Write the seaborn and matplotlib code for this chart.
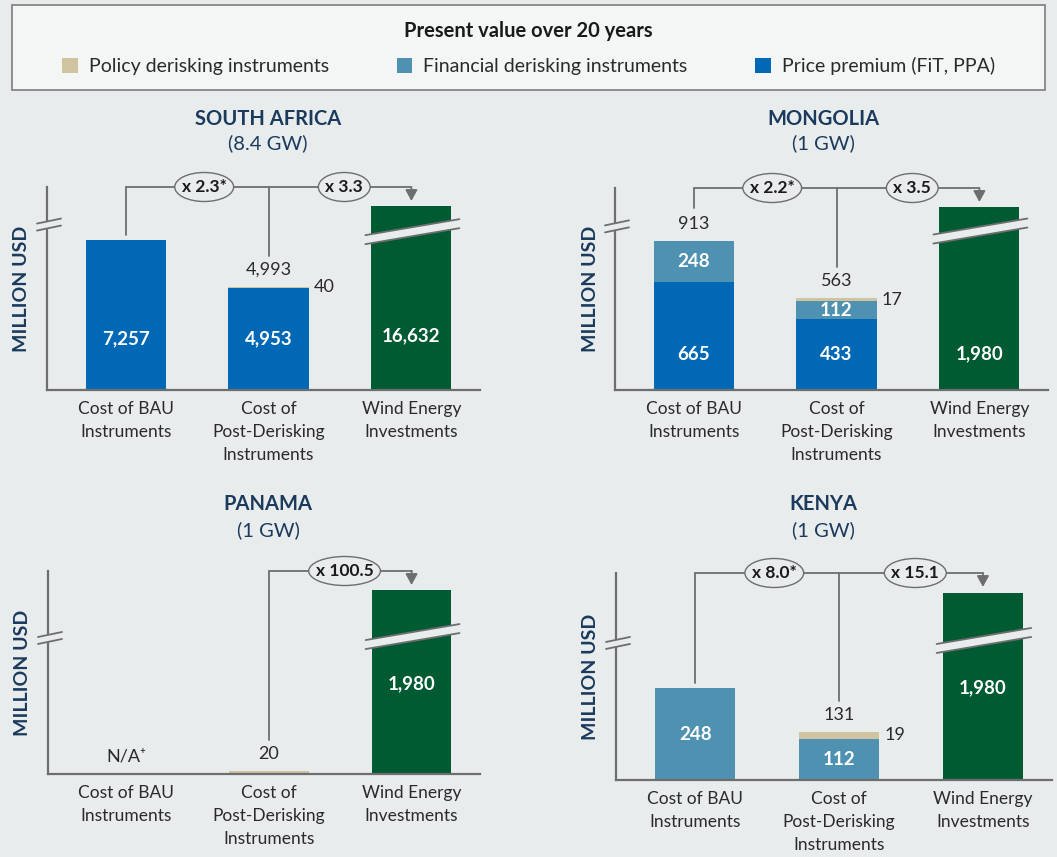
import numpy as np
import pandas as pd
import seaborn as sns
import matplotlib
matplotlib.use("Agg")
import matplotlib.pyplot as plt
import matplotlib.transforms as mtransforms
from matplotlib.patches import Patch, Rectangle, Polygon, Ellipse

# ---------------- data ----------------
categories = ["Cost of BAU\nInstruments", "Cost of\nPost-Derisking\nInstruments", "Wind Energy\nInvestments"]
countries = ["SOUTH AFRICA", "MONGOLIA", "PANAMA", "KENYA"]
capacities = ["(8.4 GW)", "(1 GW)", "(1 GW)", "(1 GW)"]
policy_derisking = [[0, 40, 0], [0, 17, 0], [0, 20, 0], [0, 19, 0]]
financial_derisking = [[0, 0, 0], [248, 112, 0], [0, 0, 0], [248, 112, 0]]
price_premium = [[7257, 4953, 0], [665, 433, 0], [0, 0, 0], [0, 0, 0]]
wind_investment = [16632, 1980, 1980, 1980]
total_labels = [["", "4,993", ""], ["913", "563", ""], ["N/A\u207a", "20", ""], ["", "131", ""]]
mult_bau = ["x 2.3*", "x 2.2*", "", "x 8.0*"]
mult_post = ["x 3.3", "x 3.5", "x 100.5", "x 15.1"]
legend_labels = ["Policy derisking instruments", "Financial derisking instruments", "Price premium (FiT, PPA)"]
legend_title = "Present value over 20 years"
y_label = "MILLION USD"

# ---------------- style / layout ----------------
W, H = 1057, 857
BG = "#e8eced"
C_POLICY = "#cfc3a0"
C_FIN = "#4e91b0"
C_PRICE = "#0068b4"
C_WIND = "#005a32"
NAVY = "#1b3a5c"
GRAY = "#6d6f6f"
TXT = "#2a2a2a"

panels_px = [(47, 187, 480, 390), (615, 188, 1048, 390), (48, 571, 480, 774), (616, 573, 1052, 780)]
y_top = [9830, 1240, 1500, 560]
wind_cap_frac = 0.905
axis_break_frac = [0.815, 0.81, 0.67, 0.662]
bar_break_frac = [0.78, 0.787, 0.677, 0.674]
wind_label_frac = [0.266, 0.178, 0.443, 0.444]
title_pos = [(268, 119, 143), (823, 119, 143), (268, 504, 530), (823, 504, 530)]
XLIM = (-0.55, 2.48)
BW = 0.56

sns.set_theme(style="white")
plt.rcParams["font.family"] = ["Lato", "DejaVu Sans"]

fig = plt.figure(figsize=(W / 100, H / 100), dpi=100, facecolor=BG)
renderer = fig.canvas.get_renderer()

# legend box
fig.patches.append(Rectangle((12 / W, 1 - 90 / H), 1033 / W, 85 / H, transform=fig.transFigure,
                             facecolor="#f4f6f6", edgecolor="#7c7e7e", lw=1.2, zorder=0))
handles = [Patch(facecolor=c, edgecolor="none") for c in (C_POLICY, C_FIN, C_PRICE)]
leg = fig.legend(handles, legend_labels, loc="center", bbox_to_anchor=(0.5, 1 - 48 / H), ncol=3,
                 frameon=False, title=legend_title, fontsize=14, labelspacing=0.85,
                 title_fontproperties={"weight": "bold", "size": 14.5},
                 handlelength=0.8, handleheight=0.8, handletextpad=0.55, columnspacing=3.5)
for t in leg.get_texts():
    t.set_color(TXT)
leg.get_title().set_color("#1a1a1a")


def ellipse_label(ax, trans, x, s):
    txt = ax.text(x, 1.0, s, transform=trans, ha="center", va="center", fontsize=12.5,
                  fontweight="bold", color="#1a1a1a", zorder=10, clip_on=False)
    w_px = txt.get_window_extent(renderer=renderer).width + 14
    h_px = 29
    tr = fig.dpi_scale_trans + mtransforms.ScaledTranslation(x, 1.0, trans)
    ax.add_patch(Ellipse((0, 0), w_px / fig.dpi, h_px / fig.dpi, transform=tr, facecolor=BG,
                         edgecolor=GRAY, lw=1.0, zorder=9, clip_on=False))


for i, country in enumerate(countries):
    l, t, r, b = panels_px[i]
    axw, axh = r - l, b - t
    ax = fig.add_axes([l / W, 1 - b / H, axw / W, axh / H])
    ax.set_facecolor(BG)

    pol = np.array(policy_derisking[i], dtype=float)
    fin = np.array(financial_derisking[i], dtype=float)
    pri = np.array(price_premium[i], dtype=float)
    wind_disp = [0, 0, min(wind_investment[i], wind_cap_frac * y_top[i])]
    df = pd.DataFrame({"category": categories, "policy_top": pol + fin + pri,
                       "fin_top": fin + pri, "price": pri, "wind": wind_disp})
    for col, c in [("policy_top", C_POLICY), ("fin_top", C_FIN), ("price", C_PRICE), ("wind", C_WIND)]:
        sns.barplot(data=df, x="category", y=col, order=categories, color=c, saturation=1,
                    width=BW, linewidth=0, errorbar=None, ax=ax)
    for p in ax.patches:
        if p.get_height() <= 0:
            p.set_visible(False)

    ax.set_xlim(*XLIM)
    ax.set_ylim(0, y_top[i])
    ax.set_yticks([])
    ax.set_xlabel("")
    ax.set_ylabel(y_label, fontsize=14, fontweight="bold", color=NAVY, va="center")
    ax.yaxis.set_label_coords(-25 / axw, 0.5)
    ax.tick_params(axis="x", length=0, pad=8, labelsize=12.5, labelcolor=TXT)
    for tl in ax.get_xticklabels():
        tl.set_linespacing(1.55)
    for s in ("top", "right"):
        ax.spines[s].set_visible(False)
    for s in ("left", "bottom"):
        ax.spines[s].set_color(GRAY)
        ax.spines[s].set_linewidth(1.6)

    unit = axw / (XLIM[1] - XLIM[0])
    py = lambda px: px / axh
    pxx = lambda px: px / unit
    fy = lambda v: v / y_top[i]
    trans = mtransforms.blended_transform_factory(ax.transData, ax.transAxes)
    totals = pol + fin + pri

    # inside labels
    pos_pri = pri[pri > 0]
    pri_y = fy(pos_pri.min() / 2) if len(pos_pri) else None
    for j in range(3):
        if pri[j] > 0:
            ax.text(j, pri_y, f"{int(pri[j]):,}", transform=trans, ha="center", va="center",
                    color="white", fontsize=13.5, fontweight="bold", zorder=6)
        if fin[j] > 0:
            ax.text(j, fy(pri[j] + fin[j] / 2), f"{int(fin[j]):,}", transform=trans, ha="center",
                    va="center", color="white", fontsize=13.5, fontweight="bold", zorder=6)
        if pol[j] > 0 and (fin[j] + pri[j]) > 0:
            ax.text(j + BW / 2 + pxx(5), fy(totals[j] - pol[j] / 2), f"{int(pol[j]):,}", transform=trans,
                    ha="left", va="center", color=TXT, fontsize=13, zorder=6)
        if total_labels[i][j]:
            ax.text(j, fy(totals[j]) + py(17), total_labels[i][j], transform=trans, ha="center",
                    va="center", color=TXT, fontsize=13, zorder=6)
    ax.text(2, wind_label_frac[i], f"{wind_investment[i]:,}", transform=trans, ha="center", va="center",
            color="white", fontsize=13.5, fontweight="bold", zorder=6)

    # break on wind bar
    yc = bar_break_frac[i]
    xL, xR = 2 - BW / 2 - pxx(6), 2 + BW / 2 + pxx(8)
    up = [(xL, yc + py(4.5 - 8)), (xR, yc + py(4.5 + 8))]
    lo = [(xL, yc + py(-4.5 - 8)), (xR, yc + py(-4.5 + 8))]
    ax.add_patch(Polygon([up[0], up[1], lo[1], lo[0]], closed=True, transform=trans,
                         facecolor=BG, edgecolor="none", zorder=7, clip_on=False))
    for ln in (up, lo):
        ax.plot([ln[0][0], ln[1][0]], [ln[0][1], ln[1][1]], transform=trans, color=GRAY,
                lw=1.3, zorder=8, clip_on=False)

    # break on y axis
    yc = axis_break_frac[i]
    x0, x1 = -10 / axw, 14 / axw
    up = [(x0, yc + py(3.5 - 2.5)), (x1, yc + py(3.5 + 2.5))]
    lo = [(x0, yc + py(-3.5 - 2.5)), (x1, yc + py(-3.5 + 2.5))]
    ax.add_patch(Polygon([up[0], up[1], lo[1], lo[0]], closed=True, transform=ax.transAxes,
                         facecolor=BG, edgecolor="none", zorder=7, clip_on=False))
    for ln in (up, lo):
        ax.plot([ln[0][0], ln[1][0]], [ln[0][1], ln[1][1]], transform=ax.transAxes, color=GRAY,
                lw=1.3, zorder=8, clip_on=False)

    # bracket
    start = 0 if mult_bau[i] else 1
    ax.plot([start, 2], [1.0, 1.0], transform=trans, color=GRAY, lw=1.3, zorder=4, clip_on=False)
    if mult_bau[i]:
        off = 33 if total_labels[i][0] else 5
        ax.plot([0, 0], [fy(totals[0]) + py(off), 1.0], transform=trans, color=GRAY, lw=1.3,
                zorder=4, clip_on=False)
        ellipse_label(ax, trans, 0.55, mult_bau[i])
    ax.plot([1, 1], [fy(totals[1]) + py(31), 1.0], transform=trans, color=GRAY, lw=1.3,
            zorder=4, clip_on=False)
    ellipse_label(ax, trans, 1.53, mult_post[i])
    ax.annotate("", xy=(2, 1.0 - py(14)), xytext=(2, 1.0), xycoords=trans, textcoords=trans,
                annotation_clip=False,
                arrowprops=dict(arrowstyle="-|>,head_length=0.55,head_width=0.3", color=GRAY,
                                lw=1.3, shrinkA=0, shrinkB=0))

    # titles
    tx, ty1, ty2 = title_pos[i]
    fig.text(tx / W, 1 - ty1 / H, country, ha="center", va="center", fontsize=14.5,
             fontweight="bold", color=NAVY)
    fig.text(tx / W, 1 - ty2 / H, capacities[i], ha="center", va="center", fontsize=14.5, color=NAVY)

fig.savefig("out.png", dpi=100, facecolor=BG)
